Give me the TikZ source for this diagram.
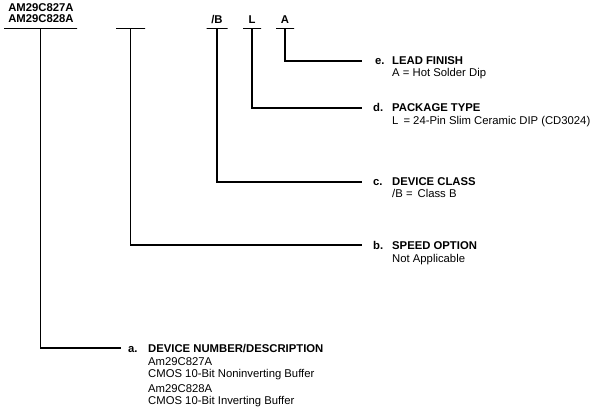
\documentclass[tikz,border=0pt]{standalone}
\usepackage{fontspec}
\setmainfont{Liberation Sans}
\begin{document}
\begin{tikzpicture}[x=1pt,y=-1pt,
  every node/.style={inner sep=0pt},
  code/.style={font=\bfseries, anchor=base},
  bar/.style={draw, line width=1.9pt, minimum height=0pt, inner sep=0pt},
  letter/.style={font=\bfseries, anchor=base west, text height=8pt, text depth=0pt},
  head/.style={font=\bfseries, anchor=base west},
  det/.style={anchor=base west},
  lead/.style={line width=1.5pt}]
\useasboundingbox (0,0) rectangle (605,414);
\fontsize{11.3}{12}\selectfont
% code fields
\node[code] (c1) at (41,12) {AM29C827A};
\node[code] (c2) at (41,23) {AM29C828A};
\node[code] (cB) at (217,24) {/B};
\node[code] (cL) at (252,24) {L};
\node[code] (cA) at (285,24) {A};
% underline bars
\node[bar, minimum width=73pt] (bar1) at (40.5,28.5) {};
\node[bar, minimum width=29pt] (bar2) at (130.5,28.5) {};
\node[bar, minimum width=21pt] (barB) at (217,28.5) {};
\node[bar, minimum width=18pt] (barL) at (252,28.5) {};
\node[bar, minimum width=18pt] (barA) at (285,28.5) {};
% e
\node[letter] (le) at (375,65) {e.};
\node[head] (he) at (392,65) {LEAD FINISH};
\node[det] (de) at (392,77) {A = Hot Solder Dip};
% d
\node[letter] (ld) at (373,112) {d.};
\node[head] (hd) at (392,112) {PACKAGE TYPE};
\node[det] (dd) at (392,125) {L \,= 24-Pin Slim Ceramic DIP (CD3024)};
% c
\node[letter] (lc) at (373,186) {c.};
\node[head] (hc) at (392,186) {DEVICE CLASS};
\node[det] (dc) at (392,198) {/B = \,Class B};
% b
\node[letter] (lb) at (373,249) {b.};
\node[head] (hb) at (392,249) {SPEED OPTION};
\node[det] (db) at (392,262) {Not Applicable};
% a
\node[letter] (la) at (128,352) {a.};
\node[head] (ha) at (148,352) {DEVICE NUMBER/DESCRIPTION};
\node[det] (da1) at (148,365) {Am29C827A};
\node[det] (da2) at (148,377) {CMOS 10-Bit Noninverting Buffer};
\node[det] (da3) at (148,392) {Am29C828A};
\node[det] (da4) at (148,404) {CMOS 10-Bit Inverting Buffer};
% connectors
\draw[lead, shorten >=13pt] (barA.center) |- (le.west);
\draw[lead, shorten >=11pt] (barL.center) |- (ld.west);
\draw[lead, shorten >=11pt] (barB.center) |- (lc.west);
\draw[lead, shorten >=11pt] (bar2.center) |- (lb.west);
\draw[lead, shorten >=7pt] (bar1.center) |- (la.west);
\end{tikzpicture}
\end{document}
